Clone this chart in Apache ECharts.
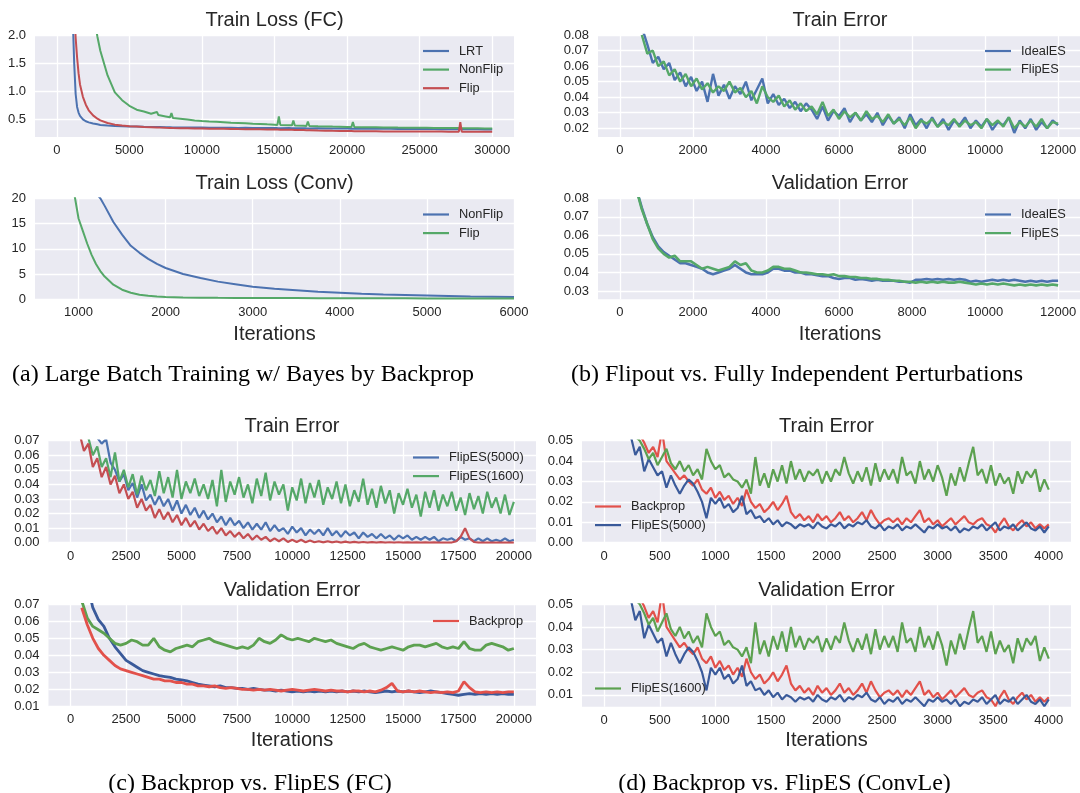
<!DOCTYPE html>
<html><head><meta charset="utf-8">
<script src="https://cdn.jsdelivr.net/npm/echarts@6/dist/echarts.min.js"></script>
<style>html,body{margin:0;padding:0;background:#fff}#c{width:1080px;height:793px}</style>
</head><body><div id="c"></div>
<script>
// ================= DATA =================
// (a) Train Loss (FC)
const fcIter = [1000,1100,1200,1300,1400,1500,1600,1800,2000,2200,2500,2800,3000,3500,4000,4500,5000,5500,6000,6500,6900,7000,7100,7500,7800,7900,8000,8500,9000,9500,10000,10500,11000,11500,12000,12500,13000,13500,14000,14500,15000,15200,15300,15400,16000,16200,16300,16400,17000,17200,17300,17400,18000,18500,19000,19500,20000,20300,20400,20500,21000,21500,22000,22500,23000,23500,24000,24500,25000,25500,26000,26500,27000,27500,27700,27800,27900,28500,29000,29500,30000];
const fcLRT = [3.5,2.3,1.5,0.95,0.72,0.62,0.56,0.5,0.465,0.445,0.425,0.41,0.4,0.39,0.382,0.378,0.372,0.37,0.366,0.363,0.362,0.36,0.361,0.358,0.357,0.356,0.356,0.354,0.355,0.352,0.353,0.35,0.351,0.349,0.35,0.347,0.348,0.346,0.347,0.344,0.345,0.343,0.344,0.342,0.343,0.341,0.342,0.34,0.341,0.339,0.34,0.338,0.339,0.337,0.338,0.335,0.336,0.334,0.335,0.333,0.334,0.332,0.333,0.33,0.331,0.329,0.33,0.327,0.328,0.326,0.327,0.324,0.325,0.323,0.324,0.322,0.323,0.321,0.322,0.32,0.318];
const fcNonFlip = [5,5,5,5,5,5,5,4.5,3.6,3.0,2.4,1.97,1.72,1.28,0.98,0.84,0.74,0.67,0.64,0.6,0.63,0.575,0.565,0.55,0.535,0.61,0.525,0.51,0.495,0.48,0.47,0.462,0.455,0.448,0.44,0.435,0.428,0.42,0.416,0.41,0.405,0.4,0.55,0.4,0.395,0.392,0.48,0.39,0.385,0.382,0.46,0.38,0.376,0.373,0.37,0.368,0.365,0.363,0.45,0.362,0.36,0.358,0.357,0.355,0.354,0.352,0.351,0.35,0.349,0.348,0.347,0.346,0.345,0.344,0.343,0.343,0.342,0.341,0.34,0.338,0.336];
const fcFlip = [5,3.2,2.5,1.95,1.6,1.32,1.12,0.9,0.76,0.66,0.57,0.51,0.48,0.435,0.405,0.39,0.378,0.37,0.362,0.358,0.355,0.353,0.352,0.349,0.347,0.346,0.345,0.342,0.34,0.338,0.336,0.333,0.331,0.33,0.328,0.326,0.325,0.323,0.321,0.32,0.318,0.317,0.316,0.316,0.313,0.312,0.33,0.311,0.308,0.306,0.305,0.305,0.3,0.298,0.295,0.293,0.291,0.29,0.289,0.289,0.288,0.287,0.286,0.285,0.284,0.284,0.283,0.283,0.282,0.282,0.281,0.281,0.28,0.28,0.28,0.45,0.28,0.279,0.279,0.278,0.278];

// (a) Train Loss (Conv)
const convIter = [900,950,1000,1050,1100,1150,1200,1250,1300,1400,1500,1600,1700,1800,1900,2000,2200,2400,2600,2800,3000,3250,3500,3750,4000,4250,4500,4750,5000,5250,5500,5750,6000];
const convNonFlip = [40,35,30,27,24.5,22.5,21,20,18.5,15.3,12.8,10.6,9.2,8.0,7.0,6.2,5.0,4.2,3.5,3.0,2.5,2.1,1.8,1.5,1.3,1.1,0.95,0.85,0.75,0.65,0.55,0.5,0.45];
const convFlip = [24,21,16,13.5,11,8.8,7,5.6,4.5,2.9,1.9,1.3,0.9,0.7,0.55,0.45,0.38,0.33,0.3,0.28,0.27,0.25,0.24,0.23,0.22,0.21,0.2,0.19,0.18,0.17,0.17,0.16,0.16];

// (b) Train Error: iterations 600,750,...,12000
const bTrainStart = 600, bTrainStep = 150;
const bTrainIdealES = [0.085,0.074,0.062,0.066,0.058,0.062,0.051,0.056,0.047,0.053,0.044,0.05,0.037,0.055,0.041,0.048,0.039,0.047,0.042,0.05,0.038,0.045,0.052,0.036,0.042,0.035,0.039,0.033,0.037,0.031,0.036,0.032,0.026,0.034,0.025,0.031,0.028,0.033,0.024,0.03,0.025,0.029,0.024,0.03,0.022,0.028,0.023,0.027,0.02,0.029,0.022,0.026,0.02,0.027,0.021,0.026,0.019,0.025,0.022,0.027,0.02,0.025,0.021,0.026,0.019,0.024,0.022,0.027,0.017,0.025,0.02,0.026,0.019,0.024,0.02,0.025,0.022];
const bTrainFlipES = [0.08,0.068,0.07,0.06,0.063,0.054,0.058,0.05,0.055,0.047,0.052,0.045,0.049,0.043,0.047,0.044,0.05,0.043,0.046,0.04,0.044,0.036,0.047,0.04,0.037,0.041,0.034,0.038,0.032,0.036,0.031,0.034,0.029,0.037,0.028,0.032,0.026,0.031,0.027,0.03,0.025,0.031,0.026,0.028,0.024,0.029,0.023,0.026,0.022,0.027,0.02,0.025,0.023,0.026,0.021,0.024,0.022,0.026,0.021,0.025,0.022,0.024,0.02,0.026,0.022,0.025,0.021,0.027,0.02,0.024,0.021,0.025,0.021,0.026,0.02,0.024,0.023];

// (b) Validation Error: iterations 450,600,...,12000
const bValStart = 450, bValStep = 150;
const bValIdealES = [0.085,0.075,0.066,0.059,0.054,0.051,0.049,0.047,0.045,0.045,0.044,0.043,0.042,0.04,0.039,0.04,0.041,0.042,0.044,0.042,0.04,0.039,0.039,0.039,0.04,0.042,0.042,0.041,0.041,0.04,0.04,0.039,0.039,0.0385,0.038,0.038,0.037,0.0365,0.037,0.037,0.036,0.0365,0.036,0.0355,0.036,0.0355,0.0355,0.0355,0.035,0.035,0.0345,0.036,0.036,0.0365,0.036,0.0365,0.036,0.0365,0.036,0.0365,0.036,0.035,0.0355,0.035,0.0355,0.036,0.0355,0.036,0.0355,0.036,0.0355,0.035,0.0355,0.035,0.0355,0.035,0.0355,0.0355];
const bValFlipES = [0.085,0.074,0.066,0.058,0.053,0.05,0.048,0.049,0.046,0.046,0.046,0.044,0.042,0.043,0.042,0.041,0.042,0.043,0.046,0.044,0.045,0.041,0.04,0.04,0.041,0.043,0.043,0.042,0.042,0.041,0.04,0.04,0.0395,0.039,0.039,0.0385,0.039,0.038,0.038,0.0375,0.0375,0.037,0.037,0.0365,0.0365,0.036,0.036,0.0355,0.0355,0.035,0.035,0.0345,0.035,0.0345,0.035,0.0345,0.035,0.0345,0.0345,0.035,0.0345,0.034,0.0335,0.034,0.0335,0.034,0.0335,0.034,0.0335,0.033,0.0335,0.033,0.0335,0.033,0.0335,0.033,0.0335,0.033];

// (c) Train Error: iterations 400,600,...,20000
const cTrainStart = 400, cTrainStep = 200;
const cTrainBackprop = [0.075,0.063,0.068,0.052,0.058,0.045,0.052,0.040,0.046,0.034,
 0.040,0.030,0.035,0.024,0.030,0.022,0.026,0.017,0.023,0.016,
 0.021,0.014,0.019,0.012,0.017,0.011,0.015,0.009,0.013,0.008,
 0.011,0.006,0.010,0.005,0.008,0.004,0.007,0.003,0.006,0.002,
 0.005,0.002,0.004,0.001,0.003,0.001,0.003,0.0005,0.002,0.0005,
 0.002,0.0003,0.0015,0.0003,0.001,0.0002,0.001,0.0002,0.0008,0.0001,
 0.0007,0.0001,0.0006,0.0001,0.0005,0.0001,0.0004,0,0.0004,0,
 0.0003,0,0.0003,0,0.0002,0,0.0002,0,0.0002,0,
 0.0002,0,0.0001,0,0.0001,0.001,0.004,0.010,0.003,0.0005,
 0,0.0001,0,0.0001,0,0.0001,0,0.0001,0];
const cTrainFlip5000 = [0.100,0.095,0.088,0.080,0.072,0.068,0.071,0.055,0.050,0.042,
 0.047,0.036,0.041,0.031,0.040,0.029,0.033,0.026,0.032,0.025,
 0.030,0.022,0.029,0.020,0.026,0.019,0.024,0.017,0.022,0.016,
 0.020,0.014,0.018,0.012,0.017,0.012,0.015,0.010,0.014,0.009,
 0.013,0.009,0.014,0.008,0.012,0.008,0.010,0.006,0.011,0.007,
 0.010,0.005,0.009,0.006,0.009,0.005,0.010,0.005,0.008,0.004,
 0.008,0.005,0.007,0.003,0.007,0.004,0.006,0.003,0.006,0.003,
 0.005,0.002,0.005,0.003,0.005,0.002,0.004,0.002,0.004,0.002,
 0.004,0.001,0.003,0.002,0.003,0.001,0.004,0.002,0.003,0.001,
 0.003,0.001,0.003,0.001,0.002,0.001,0.003,0.001,0.002];
const cTrainFlip1600 = [0.100,0.085,0.072,0.060,0.066,0.052,0.058,0.045,0.062,0.042,
 0.050,0.038,0.047,0.033,0.046,0.036,0.043,0.032,0.049,0.034,
 0.045,0.031,0.050,0.030,0.042,0.034,0.044,0.032,0.040,0.030,
 0.043,0.025,0.050,0.028,0.042,0.033,0.045,0.031,0.040,0.027,
 0.044,0.032,0.048,0.029,0.042,0.033,0.040,0.022,0.038,0.029,
 0.044,0.027,0.041,0.031,0.043,0.026,0.038,0.030,0.042,0.027,
 0.040,0.025,0.036,0.028,0.044,0.026,0.037,0.024,0.039,0.027,
 0.036,0.020,0.034,0.026,0.037,0.024,0.033,0.018,0.035,0.024,
 0.036,0.022,0.033,0.025,0.035,0.022,0.031,0.019,0.034,0.023,
 0.032,0.020,0.035,0.024,0.031,0.020,0.033,0.019,0.028];

// (c) Validation Error: iterations 500,750,...,20000
const cValStart = 500, cValStep = 250;
const cValBackprop = [0.068,0.058,0.050,0.044,0.040,0.037,0.034,0.032,0.031,0.030,
 0.029,0.028,0.027,0.026,0.026,0.025,0.025,0.024,0.024,0.023,
 0.023,0.022,0.022,0.0215,0.022,0.021,0.0205,0.021,0.0205,0.020,
 0.020,0.0195,0.020,0.0195,0.020,0.0195,0.019,0.0195,0.020,0.0195,
 0.019,0.0195,0.020,0.0195,0.019,0.0195,0.019,0.019,0.0185,0.019,
 0.019,0.0185,0.019,0.0185,0.0195,0.021,0.0235,0.019,0.0185,0.019,
 0.0185,0.019,0.0185,0.018,0.0185,0.018,0.0185,0.018,0.019,0.0245,
 0.021,0.0185,0.018,0.0185,0.018,0.0185,0.018,0.0185,0.0185];
const cValFlip5000 = [0.095,0.082,0.068,0.061,0.057,0.050,0.045,0.041,0.037,0.035,
 0.033,0.031,0.030,0.029,0.028,0.0275,0.027,0.026,0.0255,0.025,
 0.024,0.023,0.0225,0.022,0.0215,0.022,0.021,0.021,0.0205,0.0205,
 0.020,0.0205,0.020,0.0195,0.0195,0.019,0.0195,0.019,0.0185,0.019,
 0.0185,0.019,0.0185,0.019,0.0185,0.019,0.0185,0.019,0.0185,0.019,
 0.0185,0.019,0.0185,0.018,0.0185,0.019,0.0185,0.019,0.0185,0.019,
 0.0185,0.018,0.0185,0.019,0.0185,0.018,0.0175,0.017,0.0165,0.017,
 0.0175,0.017,0.0175,0.017,0.0175,0.017,0.0175,0.017,0.017];
const cValFlip1600 = [0.072,0.062,0.057,0.055,0.053,0.050,0.047,0.046,0.047,0.049,
 0.048,0.046,0.046,0.050,0.045,0.043,0.042,0.044,0.045,0.046,
 0.045,0.048,0.049,0.050,0.048,0.047,0.046,0.045,0.044,0.045,
 0.044,0.046,0.050,0.048,0.047,0.049,0.052,0.050,0.049,0.050,
 0.049,0.048,0.050,0.049,0.048,0.049,0.047,0.046,0.045,0.044,
 0.046,0.047,0.045,0.044,0.043,0.044,0.045,0.044,0.043,0.045,
 0.046,0.046,0.045,0.046,0.047,0.045,0.044,0.045,0.044,0.048,
 0.044,0.043,0.043,0.046,0.047,0.046,0.045,0.043,0.044];

// (d) Train / Validation Error (ConvLe): iterations 240,280,...,4000
const dStart = 240, dStep = 40;
const dBackprop = [0.060,0.057,0.053,0.049,0.044,0.047,0.042,0.055,0.040,0.037,
 0.034,0.031,0.033,0.030,0.028,0.031,0.026,0.024,0.027,0.022,
 0.025,0.021,0.023,0.019,0.022,0.018,0.026,0.020,0.017,0.019,
 0.015,0.017,0.020,0.016,0.019,0.023,0.015,0.012,0.014,0.011,
 0.013,0.010,0.014,0.011,0.013,0.010,0.012,0.015,0.011,0.013,
 0.010,0.012,0.015,0.011,0.016,0.012,0.009,0.011,0.012,0.010,
 0.012,0.009,0.012,0.010,0.013,0.016,0.010,0.012,0.009,0.011,
 0.008,0.010,0.012,0.009,0.011,0.013,0.010,0.009,0.011,0.012,
 0.009,0.008,0.005,0.009,0.012,0.008,0.006,0.009,0.011,0.008,
 0.010,0.007,0.009,0.007,0.009];
const dFlip5000 = [0.052,0.043,0.047,0.035,0.041,0.037,0.033,0.035,0.027,0.033,
 0.028,0.024,0.028,0.031,0.029,0.025,0.020,0.012,0.022,0.019,
 0.022,0.017,0.019,0.015,0.017,0.023,0.014,0.016,0.012,0.013,
 0.010,0.012,0.009,0.011,0.008,0.010,0.009,0.007,0.009,0.008,
 0.009,0.007,0.010,0.008,0.007,0.009,0.008,0.010,0.007,0.009,
 0.008,0.010,0.009,0.011,0.008,0.007,0.009,0.006,0.008,0.007,
 0.009,0.006,0.008,0.007,0.009,0.007,0.005,0.008,0.007,0.009,
 0.007,0.008,0.006,0.008,0.005,0.007,0.006,0.008,0.007,0.009,
 0.006,0.008,0.010,0.006,0.008,0.007,0.009,0.006,0.008,0.010,
 0.007,0.006,0.008,0.005,0.008];
const dFlip1600 = [0.056,0.052,0.050,0.046,0.041,0.044,0.038,0.042,0.046,0.039,
 0.036,0.040,0.035,0.038,0.033,0.036,0.031,0.046,0.040,0.036,
 0.038,0.032,0.034,0.031,0.030,0.027,0.031,0.024,0.042,0.028,
 0.034,0.027,0.036,0.030,0.038,0.029,0.040,0.031,0.036,0.030,
 0.035,0.033,0.036,0.029,0.035,0.030,0.036,0.033,0.042,0.034,
 0.029,0.035,0.030,0.037,0.028,0.039,0.030,0.036,0.031,0.036,
 0.029,0.042,0.033,0.035,0.029,0.040,0.031,0.036,0.030,0.038,
 0.032,0.023,0.034,0.028,0.037,0.030,0.039,0.047,0.033,0.036,
 0.029,0.038,0.028,0.034,0.029,0.032,0.024,0.035,0.029,0.035,
 0.032,0.036,0.025,0.031,0.026];

// tick labels
const xTicksFC = [0,5000,10000,15000,20000,25000,30000];
const yTicksFC = [0.5,1.0,1.5,2.0];
const xTicksConv = [1000,2000,3000,4000,5000,6000];
const yTicksConv = [0,5,10,15,20];
const xTicksB = [0,2000,4000,6000,8000,10000,12000];
const yTicksBTrain = [0.02,0.03,0.04,0.05,0.06,0.07,0.08];
const yTicksBVal = [0.03,0.04,0.05,0.06,0.07,0.08];
const xTicksC = [0,2500,5000,7500,10000,12500,15000,17500,20000];
const yTicksCTrain = [0,0.01,0.02,0.03,0.04,0.05,0.06,0.07];
const yTicksCVal = [0.01,0.02,0.03,0.04,0.05,0.06,0.07];
const xTicksD = [0,500,1000,1500,2000,2500,3000,3500,4000];
const yTicksDTrain = [0,0.01,0.02,0.03,0.04,0.05];
const yTicksDVal = [0.01,0.02,0.03,0.04,0.05];

// ================= BUILD =================
function seq(start, step, n){ const a=[]; for(let i=0;i<n;i++) a.push(start+i*step); return a; }
function pairs(xs, ys){ return ys.map((y,i)=>[xs[i], y]); }

const SANS = 'Liberation Sans';
const TXT = '#262626';
const C = {blue:'#4C72B0', green:'#55A868', red:'#C44E52',
           red2:'#E2514B', blue2:'#3A5A9A', green2:'#5CA150'};

const panels = [
 {g:[35,35,479,102],    x:[-1500,31500,xTicksFC],  y:[0.185,2.0,yTicksFC,1]},
 {g:[35,198.3,479,101], x:[500,6000,xTicksConv],   y:[0,20,yTicksConv,0]},
 {g:[598,35,484,102],   x:[-600,12600,xTicksB],    y:[0.0144,0.08,yTicksBTrain,2]},
 {g:[598,198.3,484,101],x:[-600,12600,xTicksB],    y:[0.0255,0.08,yTicksBVal,2]},
 {g:[48.5,440.7,487.5,102], x:[-1000,21000,xTicksC], y:[0,0.07,yTicksCTrain,2]},
 {g:[48.5,604.3,487.5,102], x:[-1000,21000,xTicksC], y:[0.01,0.07,yTicksCVal,2]},
 {g:[582,440.7,489,102],    x:[-200,4200,xTicksD],   y:[0,0.05,yTicksDTrain,2]},
 {g:[582,604.3,489,102.4],  x:[-200,4200,xTicksD],   y:[0.0048,0.05,yTicksDVal,2]}
];

const grid=[], xAxis=[], yAxis=[];
panels.forEach((p,i)=>{
  grid.push({left:p.g[0], top:p.g[1], width:p.g[2], height:p.g[3], show:true,
             backgroundColor:'#EAEAF2', borderWidth:0, containLabel:false});
  xAxis.push({type:'value', gridIndex:i, min:p.x[0], max:p.x[1],
    axisLine:{show:false}, axisTick:{show:false, customValues:p.x[2]},
    axisLabel:{customValues:p.x[2], color:TXT, fontSize:13, fontFamily:SANS, margin:7,
      formatter:v=>String(v)},
    splitLine:{show:true, lineStyle:{color:'#ffffff', width:1.3}}});
  const dec = p.y[3];
  yAxis.push({type:'value', gridIndex:i, min:p.y[0], max:p.y[1],
    axisLine:{show:false}, axisTick:{show:false, customValues:p.y[2]},
    axisLabel:{customValues:p.y[2], color:TXT, fontSize:13, fontFamily:SANS, margin:9,
      formatter:v=>Number(v).toFixed(dec)},
    splitLine:{show:true, lineStyle:{color:'#ffffff', width:1.3}}});
});

const series=[];
function addLine(panel, name, xs, ys, color, width){
  series.push({type:'line', name:'p'+panel+':'+name, xAxisIndex:panel, yAxisIndex:panel,
    data:pairs(xs, ys), symbol:'none', showSymbol:false, clip:true, animation:false,
    lineStyle:{color:color, width:width||2}, itemStyle:{color:color}});
}
// (a)
addLine(0,'LRT',fcIter,fcLRT,C.blue,2);
addLine(0,'NonFlip',fcIter,fcNonFlip,C.green,2);
addLine(0,'Flip',fcIter,fcFlip,C.red,2);
addLine(1,'NonFlip',convIter,convNonFlip,C.blue,2);
addLine(1,'Flip',convIter,convFlip,C.green,2);
// (b)
const bTrainIter = seq(bTrainStart,bTrainStep,bTrainIdealES.length);
const bValIter = seq(bValStart,bValStep,bValIdealES.length);
addLine(2,'IdealES',bTrainIter,bTrainIdealES,C.blue,2.4);
addLine(2,'FlipES',bTrainIter,bTrainFlipES,C.green,2.4);
addLine(3,'IdealES',bValIter,bValIdealES,C.blue,2.6);
addLine(3,'FlipES',bValIter,bValFlipES,C.green,2.6);
// (c)
const cTrainIter = seq(cTrainStart,cTrainStep,cTrainBackprop.length);
const cValIter = seq(cValStart,cValStep,cValBackprop.length);
addLine(4,'FlipES(5000)',cTrainIter,cTrainFlip5000,C.blue,2.2);
addLine(4,'FlipES(1600)',cTrainIter,cTrainFlip1600,C.green,2.2);
addLine(4,'Backprop',cTrainIter,cTrainBackprop,C.red,2.2);
addLine(5,'FlipES(5000)',cValIter,cValFlip5000,C.blue2,2.8);
addLine(5,'FlipES(1600)',cValIter,cValFlip1600,C.green2,2.8);
addLine(5,'Backprop',cValIter,cValBackprop,C.red2,2.8);
// (d)
const dIter = seq(dStart,dStep,dBackprop.length);
[6,7].forEach(k=>{
  addLine(k,'Backprop',dIter,dBackprop,C.red2,2.2);
  addLine(k,'FlipES(5000)',dIter,dFlip5000,C.blue2,2.2);
  addLine(k,'FlipES(1600)',dIter,dFlip1600,C.green2,2.2);
});

function leg(panel, names, left, top){
  return {orient:'vertical', left:left, top:top, padding:0, icon:'rect',
    itemWidth:26, itemHeight:2.2, itemGap:5.6,
    selectedMode:false, data:names.map(n=>'p'+panel+':'+n),
    formatter:n=>n.split(':')[1],
    textStyle:{fontSize:12.8, color:TXT, fontFamily:SANS, padding:[0,0,0,5]}};
}
const legend = [
  leg(0,['LRT','NonFlip','Flip'],423,44.5),
  leg(1,['NonFlip','Flip'],423,208),
  leg(2,['IdealES','FlipES'],985,44.5),
  leg(3,['IdealES','FlipES'],985,208),
  leg(4,['FlipES(5000)','FlipES(1600)'],413,451),
  leg(5,['Backprop'],433,614.5),
  leg(6,['Backprop','FlipES(5000)'],595,500),
  leg(7,['FlipES(1600)'],595,682)
];

function txt(t,x,y,size,family,color){
  return {type:'text', x:x, y:y, silent:true,
    style:{text:t, fill:color, fontSize:size, fontFamily:family, align:'center', verticalAlign:'middle'}};
}
const SERIF = 'Liberation Serif';
const graphic = [
  txt('Train Loss (FC)',274.5,20.7,20,SANS,TXT),
  txt('Train Loss (Conv)',274.5,183.3,20,SANS,TXT),
  txt('Train Error',840,20.7,20,SANS,TXT),
  txt('Validation Error',840,183.3,20,SANS,TXT),
  txt('Train Error',292,426.5,20,SANS,TXT),
  txt('Validation Error',292,590.7,20,SANS,TXT),
  txt('Train Error',826.5,426.5,20,SANS,TXT),
  txt('Validation Error',826.5,590.7,20,SANS,TXT),
  txt('Iterations',274.5,334,20,SANS,TXT),
  txt('Iterations',840,334,20,SANS,TXT),
  txt('Iterations',292,740.7,20,SANS,TXT),
  txt('Iterations',826.5,740.7,20,SANS,TXT),
  txt('(a) Large Batch Training w/ Bayes by Backprop',243,375,24,SERIF,'#000'),
  txt('(b) Flipout vs. Fully Independent Perturbations',797,375,24,SERIF,'#000'),
  txt('(c) Backprop vs. FlipES (FC)',250,783.3,24,SERIF,'#000'),
  txt('(d) Backprop vs. FlipES (ConvLe)',784.5,783.3,24,SERIF,'#000')
];

const chart = echarts.init(document.getElementById('c'), null, {renderer:'canvas'});
chart.setOption({animation:false, backgroundColor:'#ffffff',
  textStyle:{fontFamily:SANS}, grid, xAxis, yAxis, series, legend, graphic});
</script></body></html>
